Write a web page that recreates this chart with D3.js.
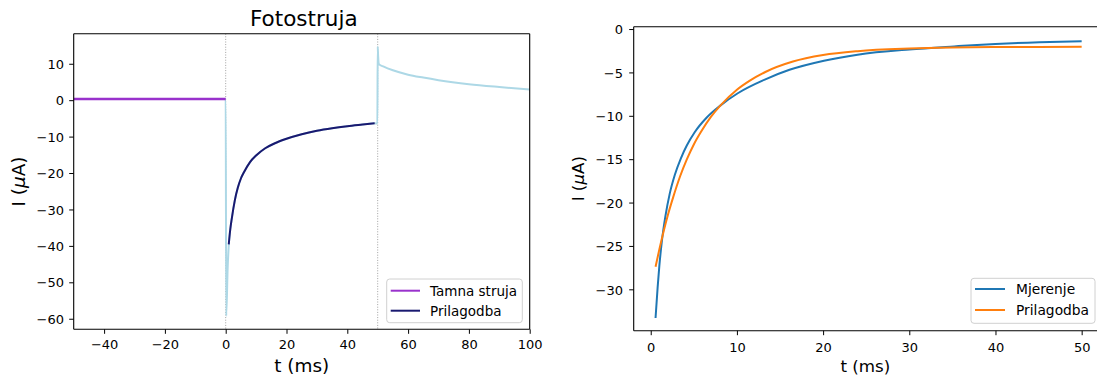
<!DOCTYPE html>
<html><head><meta charset="utf-8">
<script src="https://cdn.jsdelivr.net/npm/d3@7"></script>
<style>
body{margin:0;background:#fff}
svg{display:block}
text{font-family:"DejaVu Sans",sans-serif;fill:#000}
</style>
</head><body>
<svg id="c" width="1097" height="378"></svg>
<script>
// ---------- data ----------
// left panel: dark current (before illumination)
const darkT = [-50, -40, -30, -20, -10, 0];
const darkI = [0.3, 0.3, 0.3, 0.3, 0.3, 0.3];
// left panel: full measured photocurrent (light blue)
const measT = [-50, -25, 0, 0.17, 0.65, 1.0, 1.5, 2, 3, 4, 5, 6, 8, 10, 13, 16, 20, 25, 30, 35, 40, 45, 49, 49.9, 50.0, 50.15, 50.4, 52, 55, 60, 65, 70, 80, 90, 100];
const measI = [0.3, 0.3, 0.3, -59.2, -45.9, -39.9, -35.5, -32.5, -27.5, -24, -21.5, -19.8, -17, -15.2, -13.2, -11.9, -10.6, -9.35, -8.4, -7.7, -7.15, -6.7, -6.35, -6.4, 14.7, 12.0, 9.9, 9.2, 8.2, 7.0, 6.2, 5.5, 4.4, 3.6, 2.9];
// left panel: fit (Prilagodba)
const fitT = [1.0, 1.5, 2, 3, 4, 5, 6, 8, 10, 13, 16, 20, 25, 30, 35, 40, 45, 49];
const fitI = [-39.6, -35.5, -32.5, -27.5, -24, -21.5, -19.8, -17, -15.2, -13.2, -11.9, -10.6, -9.35, -8.4, -7.7, -7.15, -6.7, -6.35];
// light on / light off markers
const markerT = [0, 50];
const leftXTicks = [-40, -20, 0, 20, 40, 60, 80, 100];
const leftYTicks = [10, 0, -10, -20, -30, -40, -50, -60];

// right panel: measurement (Mjerenje) and fit (Prilagodba)
const rMeasT = [0.56, 0.8, 1.0, 1.3, 1.7, 2.2, 2.8, 3.5, 4.2, 5.1, 6.5, 8.1, 10.1, 13.3, 16.1, 20.1, 24, 30, 35.2, 40, 45.1, 50];
const rMeasI = [-33.3, -29.8, -27.3, -24.4, -21.6, -19.0, -16.8, -14.9, -13.4, -11.9, -10.2, -8.8, -7.4, -5.8, -4.7, -3.65, -2.95, -2.35, -2.0, -1.72, -1.52, -1.42];
const rFitT = [0.56, 1.0, 1.5, 2.0, 2.6, 3.4, 4.2, 5.0, 5.8, 7.0, 8.1, 10, 11.5, 13.3, 16.5, 20, 24, 30, 35, 40, 45, 50];
const rFitI = [-27.4, -25.4, -23.3, -21.4, -19.4, -17.0, -15.0, -13.3, -11.9, -10.1, -8.8, -7.0, -5.95, -4.95, -3.75, -3.0, -2.55, -2.25, -2.13, -2.08, -2.06, -2.05];
const rightXTicks = [0, 10, 20, 30, 40, 50];
const rightYTicks = [0, -5, -10, -15, -20, -25, -30];

// ---------- drawing ----------
const svg = d3.select("#c");
const fmt = d => d < 0 ? "\u2212" + Math.abs(d) : String(d);

function panel(opts) {
  const {x0, x1, y0, y1, xDom, yDom, xTicks, yTicks, id, xlabBase, xtickY, ytickGap, labSize, ylabX, rightSpine} = opts;
  const x = d3.scaleLinear().domain(xDom).range([x0, x1]);
  const y = d3.scaleLinear().domain(yDom).range([y1, y0]);
  svg.append("clipPath").attr("id", id).append("rect")
    .attr("x", x0).attr("y", y0).attr("width", x1 - x0).attr("height", y1 - y0);
  const plot = svg.append("g").attr("clip-path", `url(#${id})`);

  const ax = svg.append("g").attr("transform", `translate(0,${y1})`)
    .call(d3.axisBottom(x).tickValues(xTicks).tickFormat(fmt).tickSize(4.5).tickSizeOuter(0));
  ax.select(".domain").remove();
  ax.selectAll("line").attr("stroke", "#000").attr("stroke-width", 1);
  ax.selectAll("text").attr("y", xtickY).attr("dy", null).style("font-size", "13px").attr("fill", "#000");

  const ay = svg.append("g").attr("transform", `translate(${x0},0)`)
    .call(d3.axisLeft(y).tickValues(yTicks).tickFormat(fmt).tickSize(4.5).tickSizeOuter(0));
  ay.select(".domain").remove();
  ay.selectAll("line").attr("stroke", "#000").attr("stroke-width", 1);
  ay.selectAll("text").attr("x", -ytickGap).attr("dy", "0.36em").style("font-size", "13px").attr("fill", "#000");

  // spines
  const sp = svg.append("g").attr("fill", "none").attr("stroke", "#000").attr("stroke-width", 1.1);
  sp.append("line").attr("x1", x0).attr("x2", x0).attr("y1", y0).attr("y2", y1);
  sp.append("line").attr("x1", x0).attr("x2", x1).attr("y1", y1).attr("y2", y1);
  sp.append("line").attr("x1", x0).attr("x2", x1).attr("y1", y0).attr("y2", y0);
  if (rightSpine) sp.append("line").attr("x1", x1).attr("x2", x1).attr("y1", y0).attr("y2", y1);

  svg.append("text").attr("x", (x0 + Math.min(x1, 1097) ) / 2).attr("y", xlabBase)
    .attr("text-anchor", "middle").style("font-size", labSize + "px").text("t (ms)");
  const yl = svg.append("text").attr("transform", `translate(${ylabX},${(y0 + y1) / 2}) rotate(-90)`)
    .attr("text-anchor", "middle").style("font-size", labSize + "px");
  yl.append("tspan").text("I (");
  yl.append("tspan").style("font-style", "italic").text("\u03bc");
  yl.append("tspan").text("A)");
  return {x, y, plot};
}

function legend(bx, by, bw, bh, items, hx0, hx1, tx, rows, size) {
  const g = svg.append("g");
  g.append("rect").attr("x", bx).attr("y", by).attr("width", bw).attr("height", bh)
    .attr("rx", 3).attr("fill", "#fff").attr("fill-opacity", 0.8).attr("stroke", "#d0d0d0").attr("stroke-width", 1);
  items.forEach((it, i) => {
    g.append("line").attr("x1", hx0).attr("x2", hx1).attr("y1", rows[i]).attr("y2", rows[i])
      .attr("stroke", it.color).attr("stroke-width", 2);
    g.append("text").attr("x", tx).attr("y", rows[i]).attr("dy", "0.36em")
      .style("font-size", size + "px").text(it.label);
  });
}

// ---- left panel ----
const L = panel({x0: 73.7, x1: 529.7, y0: 33.7, y1: 329.3, xDom: [-50, 100], yDom: [-62.9, 18.25],
  xTicks: leftXTicks, yTicks: leftYTicks, id: "clipL", xlabBase: 371.5, xtickY: 20, ytickGap: 9.7,
  labSize: 18.4, ylabX: 24.5, rightSpine: true});

L.plot.selectAll(".vl").data(markerT).join("line")
  .attr("x1", d => L.x(d)).attr("x2", d => L.x(d))
  .attr("y1", L.y.range()[1]).attr("y2", L.y.range()[0])
  .attr("stroke", "#a0a0a0").attr("stroke-width", 1).attr("stroke-dasharray", "1,1.6");

const lineL = (T, I) => d3.line().x((d, i) => L.x(T[i])).y((d, i) => L.y(I[i])).curve(d3.curveMonotoneX)(T);
L.plot.append("path").attr("d", lineL(measT, measI)).attr("fill", "none").attr("stroke", "#add8e6").attr("stroke-width", 2);
L.plot.append("path").attr("d", lineL(darkT, darkI)).attr("fill", "none").attr("stroke", "#9932cc").attr("stroke-width", 2.5);
L.plot.append("path").attr("d", lineL(fitT, fitI)).attr("fill", "none").attr("stroke", "#191970").attr("stroke-width", 2);

svg.append("text").attr("x", 303.8).attr("y", 26).attr("text-anchor", "middle")
  .style("font-size", "21.5px").text("Fotostruja");

legend(386.7, 279, 135.6, 43.7,
  [{label: "Tamna struja", color: "#9932cc"}, {label: "Prilagodba", color: "#191970"}],
  390.7, 420, 430, [290.7, 310.7], 13.5);

// ---- right panel ----
const R = panel({x0: 633.7, x1: 1103, y0: 26.7, y1: 330.7, xDom: [-1.975, 52.475], yDom: [-34.77, 0.27],
  xTicks: rightXTicks, yTicks: rightYTicks, id: "clipR", xlabBase: 371.5, xtickY: 21, ytickGap: 10.7,
  labSize: 16.7, ylabX: 584, rightSpine: true});

const lineR = (T, I) => d3.line().x((d, i) => R.x(T[i])).y((d, i) => R.y(I[i])).curve(d3.curveMonotoneX)(T);
R.plot.append("path").attr("d", lineR(rMeasT, rMeasI)).attr("fill", "none").attr("stroke", "#1f77b4").attr("stroke-width", 2);
R.plot.append("path").attr("d", lineR(rFitT, rFitI)).attr("fill", "none").attr("stroke", "#ff7f0e").attr("stroke-width", 2);

legend(971, 278.3, 124, 45,
  [{label: "Mjerenje", color: "#1f77b4"}, {label: "Prilagodba", color: "#ff7f0e"}],
  975, 1005, 1016, [289, 310], 13.8);
</script>
</body></html>
